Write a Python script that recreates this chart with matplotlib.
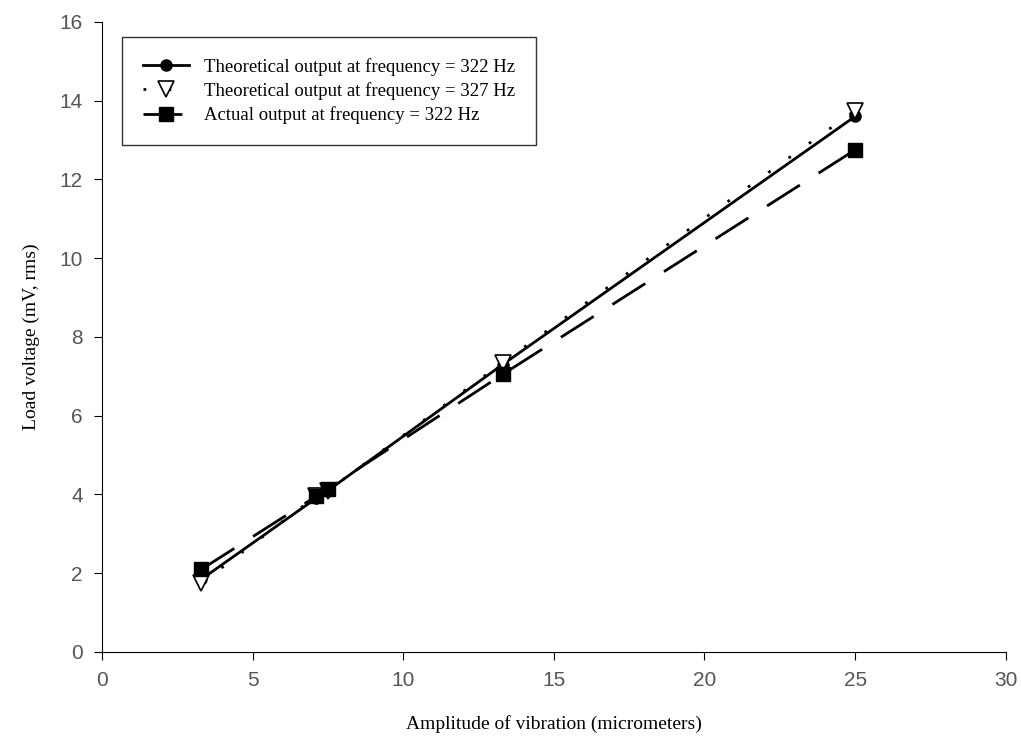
import matplotlib
matplotlib.use("Agg")
import matplotlib.pyplot as plt

# Values
amp = [3.3, 7.1, 7.5, 13.3, 25.0]
theory_322 = [1.85, 3.9, 4.1, 7.3, 13.6]
theory_327 = [1.75, 3.95, 4.1, 7.35, 13.75]
actual_322 = [2.1, 3.95, 4.15, 7.05, 12.75]

labels = ["Theoretical output at frequency = 322 Hz",
          "Theoretical output at frequency = 327 Hz",
          "Actual output at frequency = 322 Hz"]

fig = plt.figure(figsize=(10.21, 7.43), dpi=100)
ax = fig.add_axes([0.1, 0.1225, 0.885, 0.848])

ax.plot(amp, theory_322, color="black", lw=2, marker="o", ms=8, label=labels[0])
ax.plot(amp, theory_327, color="black", lw=2, ls=(0, (1, 8)), marker="v", ms=11,
        mfc="white", mec="black", mew=1.2, label=labels[1])
ax.plot(amp, actual_322, color="black", lw=2, ls=(0, (14, 8)), marker="s", ms=10,
        label=labels[2])

ax.set_xlim(0, 30)
ax.set_ylim(0, 16)
ax.set_xticks(range(0, 31, 5))
ax.set_yticks(range(0, 17, 2))
for s in ["top", "right"]:
    ax.spines[s].set_visible(False)
ax.tick_params(direction="out", length=6, labelsize=15, labelcolor="#555555", pad=8)
for t in ax.get_xticklabels() + ax.get_yticklabels():
    t.set_family(["Liberation Sans", "DejaVu Sans"])

serif = ["Liberation Serif", "DejaVu Serif"]
ax.set_xlabel("Amplitude of vibration (micrometers)", family=serif, fontsize=14,
              labelpad=18)
ax.set_ylabel("Load voltage (mV, rms)", family=serif, fontsize=14, labelpad=14)

leg = ax.legend(loc="upper left", bbox_to_anchor=(0.022, 0.976), frameon=True,
                fancybox=False, edgecolor="black", prop={"family": serif, "size": 13.5},
                borderpad=1.1, handlelength=2.5, labelspacing=0.35, borderaxespad=0)
leg.get_frame().set_linewidth(1.0)

fig.savefig("out.png", dpi=100)
